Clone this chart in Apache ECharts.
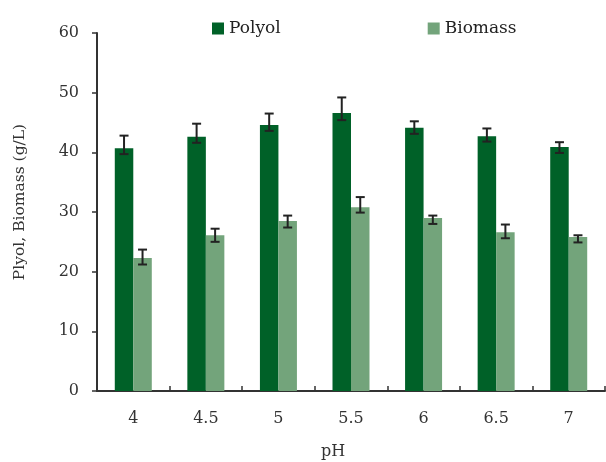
<!DOCTYPE html>
<html>
<head>
<meta charset="utf-8">
<script src="https://cdn.jsdelivr.net/npm/echarts@6/dist/echarts.min.js"></script>
<style>html,body{margin:0;padding:0;background:#fff}#c{width:606px;height:462px}</style>
</head>
<body>
<div id="c"></div>
<script>
const categories = ['4', '4.5', '5', '5.5', '6', '6.5', '7'];
const polyol = [40.7, 42.6, 44.6, 46.6, 44.1, 42.7, 40.9];
const polyolErrHigh = [42.8, 44.8, 46.5, 49.2, 45.2, 44.0, 41.7];
const polyolErrLow = [39.7, 41.6, 43.6, 45.4, 43.1, 41.8, 39.9];
const biomass = [22.3, 26.1, 28.5, 30.8, 29.0, 26.6, 25.8];
const biomassErrHigh = [23.7, 27.2, 29.4, 32.5, 29.4, 27.9, 26.1];
const biomassErrLow = [21.2, 25.0, 27.4, 29.9, 28.0, 25.6, 24.9];
const yTicks = [0, 10, 20, 30, 40, 50, 60];

const FONT = 'DejaVu Serif';
const BAR_W = 18.5;
const chart = echarts.init(document.getElementById('c'), null, {renderer: 'canvas'});

function errSeries(low, high, shift) {
  return {
    type: 'custom',
    z: 10,
    silent: true,
    data: categories.map((c, i) => [i, low[i], high[i]]),
    renderItem: function (params, api) {
      const lo = api.coord([api.value(0), api.value(1)]);
      const hi = api.coord([api.value(0), api.value(2)]);
      const x = lo[0] + shift;
      const cap = 4.5;
      const st = {stroke: '#222', lineWidth: 2, fill: null};
      return {
        type: 'group',
        children: [
          {type: 'line', shape: {x1: x, y1: lo[1], x2: x, y2: hi[1]}, style: st},
          {type: 'line', shape: {x1: x - cap, y1: lo[1], x2: x + cap, y2: lo[1]}, style: st},
          {type: 'line', shape: {x1: x - cap, y1: hi[1], x2: x + cap, y2: hi[1]}, style: st}
        ]
      };
    }
  };
}

chart.setOption({
  animation: false,
  backgroundColor: '#fff',
  textStyle: {fontFamily: FONT, color: '#333'},
  grid: {left: 97, top: 33, bottom: 71, width: 508, containLabel: false},
  legend: {
    left: 212, top: 20, padding: 0,
    itemWidth: 12, itemHeight: 12, itemGap: 147,
    icon: 'rect',
    textStyle: {fontFamily: FONT, fontSize: 17, color: '#222'},
    data: ['Polyol', 'Biomass']
  },
  xAxis: {
    type: 'category',
    data: categories,
    axisLine: {lineStyle: {color: '#333', width: 2}},
    axisTick: {show: true, inside: true, length: 5, interval: 0, lineStyle: {color: '#333', width: 1.5}},
    axisLabel: {fontFamily: FONT, fontSize: 16, color: '#333', margin: 20},
    splitLine: {show: false}
  },
  yAxis: {
    type: 'value',
    min: 0, max: 60, interval: 10,
    axisLine: {show: true, lineStyle: {color: '#333', width: 2}},
    axisTick: {show: true, inside: false, length: 5, lineStyle: {color: '#333', width: 1.5}},
    axisLabel: {fontFamily: FONT, fontSize: 16, color: '#333', margin: 18,
      formatter: v => yTicks.includes(v) ? String(v) : ''},
    splitLine: {show: false}
  },
  graphic: [
    {type: 'text', rotation: Math.PI / 2, x: 20, y: 202,
      style: {text: 'Plyol, Biomass (g/L)', fontFamily: FONT, fontSize: 15.5, fill: '#333',
        textAlign: 'center', textVerticalAlign: 'middle'}},
    {type: 'text', x: 333, y: 452,
      style: {text: 'pH', fontFamily: FONT, fontSize: 16, fill: '#333',
        textAlign: 'center', textVerticalAlign: 'middle'}}
  ],
  series: [
    {name: 'Polyol', type: 'bar', data: polyol, barWidth: BAR_W, barGap: '0%',
      itemStyle: {color: '#006128'}},
    {name: 'Biomass', type: 'bar', data: biomass, barWidth: BAR_W, barGap: '0%',
      itemStyle: {color: '#73a47b'}},
    errSeries(polyolErrLow, polyolErrHigh, -BAR_W / 2),
    errSeries(biomassErrLow, biomassErrHigh, BAR_W / 2)
  ]
});
</script>
</body>
</html>
